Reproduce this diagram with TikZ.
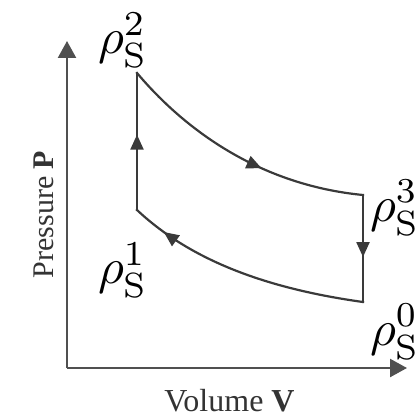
\documentclass[tikz,border=0pt]{standalone}
\usepackage{fontspec}
\newfontfamily\timesf{Liberation Serif}
\usetikzlibrary{arrows.meta,decorations.markings}
\definecolor{ln}{HTML}{3A3A3A}
\definecolor{ax}{HTML}{505050}
\definecolor{tx}{HTML}{333333}
\begin{document}
\begin{tikzpicture}[x=1pt,y=-1pt,
  cyc/.style={draw=ln,line width=2.2pt,line cap=rect},
  midarrow/.style={decoration={markings,mark=at position #1 with {\arrow{Triangle[length=15pt,width=13pt]}}},postaction=decorate},
  axis/.style={draw=ax,line width=2.4pt,-{Triangle[length=17pt,width=18pt]}},
  lab/.style={inner sep=0pt,anchor=base west,scale=5},
  axlab/.style={inner sep=0pt,anchor=base,text=tx}]
\useasboundingbox (0,0) rectangle (417,417);
% axes
\coordinate (O) at (67,368);
\coordinate (ytip) at (67,41);
\coordinate (xtip) at (407,368);
\draw[axis] (O) -- (ytip);
\draw[axis] (O) -- (xtip);
% cycle vertices
\coordinate (p1) at (137,210);
\coordinate (p2) at (137,73);
\coordinate (p3) at (363,195);
\coordinate (p0) at (363,302);
\draw[cyc,midarrow=0.55] (p1) -- (p2);
\draw[cyc,midarrow=0.6] (p2) .. controls (185,130) and (260,185) .. (p3);
\draw[cyc,midarrow=0.58] (p3) -- (p0);
\draw[cyc,midarrow=0.86] (p0) .. controls (255,287) and (185,255) .. (p1);
% labels
\node[lab] (l2) at (97,53.5) {$\rho_{\mathrm{S}}^{2}$};
\node[lab] (l1) at (97,283.5) {$\rho_{\mathrm{S}}^{1}$};
\node[lab] (l3) at (369,221) {$\rho_{\mathrm{S}}^{3}$};
\node[lab] (l0) at (369,345) {$\rho_{\mathrm{S}}^{0}$};
\node[axlab,font=\timesf\fontsize{32}{38}\selectfont] (xl) at (229.5,411) {Volume \textbf{V}};
\node[axlab,rotate=90,font=\timesf\fontsize{30}{36}\selectfont] (yl) at (53,214.5) {Pressure \textbf{P}};
\end{tikzpicture}
\end{document}
